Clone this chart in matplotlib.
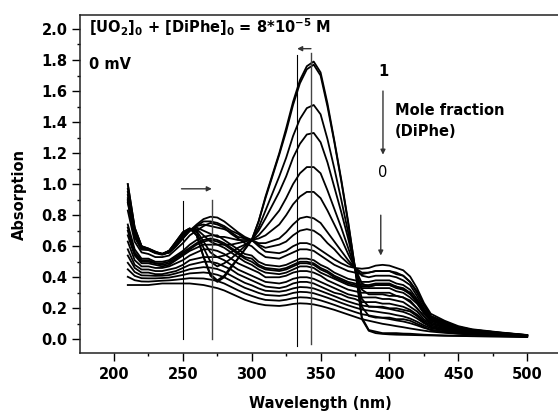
import matplotlib
matplotlib.use("Agg")
import matplotlib.pyplot as plt
from matplotlib.ticker import MultipleLocator, FormatStrFormatter

wl = [210, 215, 220, 225, 230, 235, 240, 245, 250, 255, 260, 265, 270, 275, 280, 285, 290,
      295, 300, 305, 310, 320, 325, 330, 335, 340, 345, 350, 355, 360, 365, 370, 375, 380,
      385, 390, 395, 400, 405, 410, 415, 420, 425, 430, 440, 450, 460, 480, 500]

# absorption spectra, mole fraction DiPhe going 1 -> 0
s00 = [1.00, 0.72, 0.60, 0.585, 0.565, 0.55, 0.57,
       0.63, 0.69, 0.715, 0.67, 0.53, 0.41, 0.37, 0.40, 0.46, 0.52,
       0.58, 0.64, 0.76, 0.92, 1.20, 1.36, 1.53, 1.67, 1.76, 1.79,
       1.72, 1.52, 1.28, 1.03, 0.76, 0.46, 0.13, 0.055, 0.04, 0.035,
       0.032, 0.03, 0.029, 0.028, 0.027, 0.026, 0.025,
       0.023, 0.022, 0.02, 0.018, 0.015]
s01 = [1.00, 0.72, 0.60, 0.585, 0.565, 0.55, 0.57,
       0.63, 0.69, 0.715, 0.67, 0.535, 0.42, 0.38, 0.41, 0.47, 0.52,
       0.58, 0.64, 0.76, 0.91, 1.19, 1.34, 1.51, 1.65, 1.74, 1.77,
       1.70, 1.50, 1.27, 1.02, 0.75, 0.46, 0.14, 0.06, 0.05, 0.04,
       0.04, 0.04, 0.037, 0.036, 0.033, 0.030, 0.028,
       0.025, 0.023, 0.021, 0.019, 0.015]
s02 = [0.97, 0.71, 0.60, 0.58, 0.56, 0.55, 0.57,
       0.62, 0.68, 0.71, 0.69, 0.59, 0.50, 0.47, 0.49, 0.52, 0.56,
       0.60, 0.64, 0.72, 0.83, 1.05, 1.17, 1.31, 1.42, 1.49, 1.51,
       1.45, 1.29, 1.10, 0.90, 0.69, 0.46, 0.21, 0.15, 0.14, 0.14,
       0.14, 0.13, 0.13, 0.12, 0.10, 0.08, 0.06,
       0.046, 0.037, 0.031, 0.024, 0.018]
s03 = [0.95, 0.70, 0.59, 0.58, 0.56, 0.55, 0.57,
       0.62, 0.67, 0.71, 0.70, 0.63, 0.56, 0.53, 0.54, 0.56, 0.59,
       0.61, 0.64, 0.70, 0.78, 0.95, 1.05, 1.17, 1.26, 1.32, 1.33,
       1.27, 1.14, 0.98, 0.82, 0.65, 0.46, 0.26, 0.21, 0.21, 0.21,
       0.20, 0.20, 0.19, 0.18, 0.15, 0.11, 0.08,
       0.061, 0.047, 0.038, 0.029, 0.020]
s04 = [0.93, 0.69, 0.59, 0.58, 0.56, 0.55, 0.56,
       0.61, 0.67, 0.71, 0.71, 0.67, 0.63, 0.61, 0.61, 0.61, 0.62,
       0.63, 0.64, 0.67, 0.72, 0.83, 0.91, 1.00, 1.07, 1.11, 1.11,
       1.07, 0.96, 0.84, 0.72, 0.59, 0.46, 0.32, 0.29, 0.29, 0.29,
       0.28, 0.28, 0.27, 0.24, 0.20, 0.15, 0.10,
       0.078, 0.058, 0.046, 0.033, 0.022]
s05 = [0.91, 0.68, 0.59, 0.58, 0.56, 0.55, 0.56,
       0.61, 0.66, 0.70, 0.72, 0.70, 0.68, 0.66, 0.66, 0.65, 0.64,
       0.64, 0.64, 0.65, 0.67, 0.74, 0.80, 0.87, 0.92, 0.95, 0.95,
       0.91, 0.83, 0.74, 0.65, 0.55, 0.46, 0.36, 0.34, 0.35, 0.35,
       0.35, 0.34, 0.32, 0.30, 0.24, 0.17, 0.12,
       0.092, 0.067, 0.052, 0.037, 0.024]
s06 = [0.90, 0.67, 0.58, 0.58, 0.56, 0.55, 0.56,
       0.60, 0.66, 0.70, 0.73, 0.74, 0.73, 0.72, 0.71, 0.69, 0.66,
       0.65, 0.64, 0.62, 0.62, 0.65, 0.69, 0.74, 0.78, 0.79, 0.78,
       0.75, 0.69, 0.63, 0.57, 0.51, 0.46, 0.41, 0.40, 0.41, 0.41,
       0.41, 0.40, 0.38, 0.35, 0.28, 0.20, 0.14,
       0.105, 0.076, 0.058, 0.041, 0.026]
s07 = [0.89, 0.66, 0.58, 0.58, 0.56, 0.55, 0.56,
       0.60, 0.65, 0.70, 0.73, 0.76, 0.76, 0.75, 0.73, 0.70, 0.68,
       0.65, 0.64, 0.61, 0.59, 0.61, 0.63, 0.67, 0.70, 0.71, 0.70,
       0.67, 0.62, 0.58, 0.53, 0.49, 0.46, 0.43, 0.43, 0.44, 0.44,
       0.44, 0.43, 0.41, 0.37, 0.31, 0.22, 0.15,
       0.112, 0.080, 0.061, 0.043, 0.027]
s08 = [0.88, 0.66, 0.58, 0.575, 0.555, 0.545, 0.56,
       0.60, 0.65, 0.70, 0.74, 0.775, 0.79, 0.785, 0.76, 0.725, 0.69,
       0.66, 0.64, 0.60, 0.565, 0.555, 0.57, 0.60, 0.62, 0.62, 0.605,
       0.575, 0.545, 0.515, 0.49, 0.47, 0.46, 0.455, 0.46, 0.475, 0.48,
       0.475, 0.46, 0.445, 0.405, 0.33, 0.235, 0.165,
       0.12, 0.085, 0.065, 0.045, 0.028]
s09 = [0.83, 0.63, 0.56, 0.55, 0.53, 0.53, 0.54,
       0.58, 0.62, 0.67, 0.70, 0.73, 0.75, 0.74, 0.72, 0.68, 0.65,
       0.62, 0.60, 0.56, 0.53, 0.52, 0.54, 0.56, 0.58, 0.58, 0.57,
       0.54, 0.51, 0.48, 0.46, 0.44, 0.43, 0.42, 0.43, 0.44, 0.44,
       0.44, 0.42, 0.41, 0.37, 0.30, 0.22, 0.15,
       0.112, 0.080, 0.062, 0.043, 0.027]
s10 = [0.74, 0.58, 0.52, 0.52, 0.50, 0.50, 0.51,
       0.54, 0.57, 0.61, 0.64, 0.66, 0.67, 0.67, 0.64, 0.61, 0.58,
       0.55, 0.54, 0.50, 0.48, 0.47, 0.48, 0.50, 0.52, 0.52, 0.51,
       0.48, 0.46, 0.43, 0.41, 0.39, 0.38, 0.37, 0.37, 0.38, 0.38,
       0.38, 0.36, 0.35, 0.32, 0.26, 0.19, 0.14,
       0.100, 0.072, 0.056, 0.040, 0.025]
s11 = [0.72, 0.56, 0.51, 0.51, 0.49, 0.49, 0.50,
       0.53, 0.56, 0.59, 0.62, 0.64, 0.65, 0.64, 0.62, 0.59, 0.56,
       0.53, 0.52, 0.48, 0.46, 0.45, 0.46, 0.48, 0.50, 0.50, 0.49,
       0.46, 0.44, 0.41, 0.39, 0.37, 0.36, 0.35, 0.35, 0.36, 0.36,
       0.36, 0.34, 0.33, 0.30, 0.25, 0.18, 0.13,
       0.096, 0.070, 0.054, 0.038, 0.025]
s12 = [0.70, 0.55, 0.50, 0.50, 0.49, 0.48, 0.49,
       0.52, 0.55, 0.58, 0.61, 0.63, 0.64, 0.63, 0.61, 0.58, 0.55,
       0.52, 0.50, 0.47, 0.45, 0.44, 0.45, 0.47, 0.49, 0.49, 0.48,
       0.45, 0.43, 0.40, 0.38, 0.36, 0.35, 0.34, 0.34, 0.35, 0.35,
       0.35, 0.33, 0.32, 0.29, 0.24, 0.17, 0.13,
       0.093, 0.068, 0.053, 0.038, 0.025]
s13 = [0.67, 0.54, 0.49, 0.49, 0.48, 0.47, 0.48,
       0.51, 0.54, 0.57, 0.59, 0.61, 0.61, 0.61, 0.59, 0.56, 0.53,
       0.50, 0.48, 0.45, 0.43, 0.42, 0.43, 0.45, 0.47, 0.47, 0.46,
       0.43, 0.41, 0.39, 0.37, 0.35, 0.34, 0.33, 0.33, 0.33, 0.33,
       0.33, 0.31, 0.30, 0.27, 0.23, 0.17, 0.12,
       0.090, 0.066, 0.052, 0.037, 0.024]
s14 = [0.63, 0.51, 0.47, 0.47, 0.46, 0.46, 0.47,
       0.49, 0.51, 0.54, 0.56, 0.58, 0.58, 0.57, 0.55, 0.52, 0.49,
       0.47, 0.45, 0.43, 0.40, 0.40, 0.41, 0.43, 0.44, 0.44, 0.43,
       0.41, 0.38, 0.36, 0.34, 0.32, 0.31, 0.30, 0.30, 0.30, 0.30,
       0.30, 0.28, 0.27, 0.25, 0.20, 0.15, 0.11,
       0.083, 0.062, 0.049, 0.035, 0.023]
s15 = [0.58, 0.48, 0.45, 0.45, 0.44, 0.44, 0.45,
       0.46, 0.48, 0.51, 0.52, 0.53, 0.53, 0.53, 0.51, 0.48, 0.45,
       0.43, 0.41, 0.39, 0.37, 0.36, 0.37, 0.39, 0.40, 0.40, 0.39,
       0.37, 0.35, 0.33, 0.31, 0.29, 0.28, 0.27, 0.27, 0.27, 0.26,
       0.26, 0.25, 0.24, 0.21, 0.18, 0.13, 0.10,
       0.076, 0.057, 0.046, 0.033, 0.022]
s16 = [0.54, 0.46, 0.43, 0.43, 0.42, 0.42, 0.43,
       0.44, 0.46, 0.48, 0.49, 0.50, 0.50, 0.49, 0.47, 0.45, 0.42,
       0.40, 0.38, 0.36, 0.34, 0.33, 0.34, 0.36, 0.37, 0.37, 0.36,
       0.34, 0.32, 0.30, 0.29, 0.27, 0.26, 0.24, 0.24, 0.24, 0.23,
       0.23, 0.22, 0.21, 0.19, 0.16, 0.12, 0.09,
       0.069, 0.053, 0.043, 0.031, 0.022]
s17 = [0.493, 0.434, 0.412, 0.411, 0.409, 0.410, 0.414,
       0.425, 0.438, 0.452, 0.459, 0.465, 0.462, 0.453, 0.435, 0.411, 0.387,
       0.364, 0.348, 0.328, 0.313, 0.307, 0.314, 0.328, 0.337, 0.335, 0.328,
       0.312, 0.295, 0.278, 0.260, 0.244, 0.230, 0.218, 0.212, 0.209, 0.203,
       0.196, 0.186, 0.177, 0.160, 0.135, 0.104, 0.081,
       0.063, 0.049, 0.040, 0.030, 0.021]
s18 = [0.451, 0.409, 0.394, 0.393, 0.393, 0.395, 0.398,
       0.406, 0.415, 0.425, 0.428, 0.431, 0.426, 0.416, 0.400, 0.377, 0.354,
       0.332, 0.316, 0.299, 0.286, 0.280, 0.286, 0.299, 0.306, 0.304, 0.297,
       0.283, 0.268, 0.252, 0.235, 0.219, 0.205, 0.192, 0.185, 0.179, 0.172,
       0.166, 0.156, 0.148, 0.134, 0.114, 0.090, 0.072,
       0.057, 0.045, 0.037, 0.028, 0.020]
s19 = [0.403, 0.381, 0.373, 0.372, 0.375, 0.378, 0.380,
       0.384, 0.389, 0.394, 0.393, 0.392, 0.385, 0.376, 0.360, 0.338, 0.316,
       0.296, 0.280, 0.265, 0.254, 0.249, 0.255, 0.265, 0.271, 0.269, 0.263,
       0.251, 0.237, 0.222, 0.206, 0.191, 0.176, 0.162, 0.154, 0.146, 0.138,
       0.131, 0.122, 0.115, 0.104, 0.090, 0.074, 0.062,
       0.050, 0.041, 0.034, 0.026, 0.019]
s20 = [0.35, 0.35, 0.35, 0.35, 0.355, 0.36, 0.36,
       0.36, 0.36, 0.36, 0.355, 0.35, 0.34, 0.33, 0.315, 0.295, 0.275,
       0.255, 0.24, 0.228, 0.22, 0.215, 0.22, 0.228, 0.232, 0.23, 0.225,
       0.215, 0.203, 0.19, 0.175, 0.16, 0.145, 0.13, 0.12, 0.11, 0.10,
       0.093, 0.085, 0.078, 0.07, 0.063, 0.056, 0.05,
       0.042, 0.036, 0.031, 0.024, 0.018]

spectra = [s00, s01, s02, s03, s04, s05, s06, s07, s08, s09, s10,
           s11, s12, s13, s14, s15, s16, s17, s18, s19, s20]

plt.rcParams['font.family'] = 'DejaVu Sans'
plt.rcParams['font.weight'] = 'bold'
plt.rcParams['mathtext.default'] = 'bf'

fig = plt.figure(figsize=(5.58, 4.12), dpi=100)
ax = fig.add_axes([80 / 558, 1 - 353.3 / 412, 482 / 558, 338.3 / 412])

for s in spectra:
    ax.plot(wl, s, color='black', lw=1.3, solid_joinstyle='round')

ax.set_xlim(175.3, 525.3)
ax.set_ylim(-0.09, 2.09)

ax.xaxis.set_major_locator(MultipleLocator(50))
ax.xaxis.set_minor_locator(MultipleLocator(25))
ax.yaxis.set_major_locator(MultipleLocator(0.2))
ax.yaxis.set_minor_locator(MultipleLocator(0.1))
ax.yaxis.set_major_formatter(FormatStrFormatter('%.1f'))
ax.tick_params(which='major', direction='out', length=5.5, width=1, labelsize=10.5, pad=3.5)
ax.tick_params(which='minor', direction='out', length=2.5, width=1)
ax.tick_params(axis='x', which='major', pad=4.5)
for sp in ax.spines.values():
    sp.set_linewidth(1.1)
    sp.set_color('#222222')

fig.text(19.7 / 558, 1 - 195 / 412, 'Absorption', rotation=90, ha='center', va='center',
         fontsize=10.5, fontweight='bold')
fig.text(320 / 558, 1 - 396 / 412, 'Wavelength (nm)', ha='center', va='top',
         fontsize=10.5, fontweight='bold')

# marker lines and shift arrows
ax.plot([250, 250], [0.0, 0.89], color='black', lw=0.8)
ax.plot([271, 271], [0.0, 0.90], color='#444444', lw=1.0)
ax.plot([333, 333], [-0.04, 1.83], color='black', lw=0.8)
ax.plot([343, 343], [-0.03, 1.845], color='#444444', lw=1.0)

arrow = dict(arrowstyle='-|>', color='#333333', lw=1.0, mutation_scale=7, shrinkA=0, shrinkB=0)
ax.annotate('', xy=(271, 0.97), xytext=(249, 0.97), arrowprops=arrow)
ax.annotate('', xy=(333, 1.873), xytext=(343, 1.873), arrowprops=arrow)
ax.annotate('', xy=(393.7, 0.54), xytext=(393.7, 0.80), arrowprops=arrow)
ax.annotate('', xy=(395.3, 1.19), xytext=(395.3, 1.60), arrowprops=arrow)

ax.text(181.8, 1.974, r'[UO$_2$]$_0$ + [DiPhe]$_0$ = 8*10$^{-5}$ M', fontsize=10.5,
        fontweight='bold', va='baseline', ha='left')
ax.text(181.8, 1.744, '0 mV', fontsize=10.5, fontweight='bold', va='baseline', ha='left')
ax.text(395.3, 1.694, '1', fontsize=10.5, fontweight='bold', va='baseline', ha='center')
ax.text(404.1, 1.443, 'Mole fraction', fontsize=10.5, fontweight='bold', va='baseline', ha='left')
ax.text(404.1, 1.31, '(DiPhe)', fontsize=10.5, fontweight='bold', va='baseline', ha='left')
ax.text(395.3, 1.049, '0', fontsize=10.5, fontweight='normal', va='baseline', ha='center')

fig.savefig('out.png', dpi=100)
